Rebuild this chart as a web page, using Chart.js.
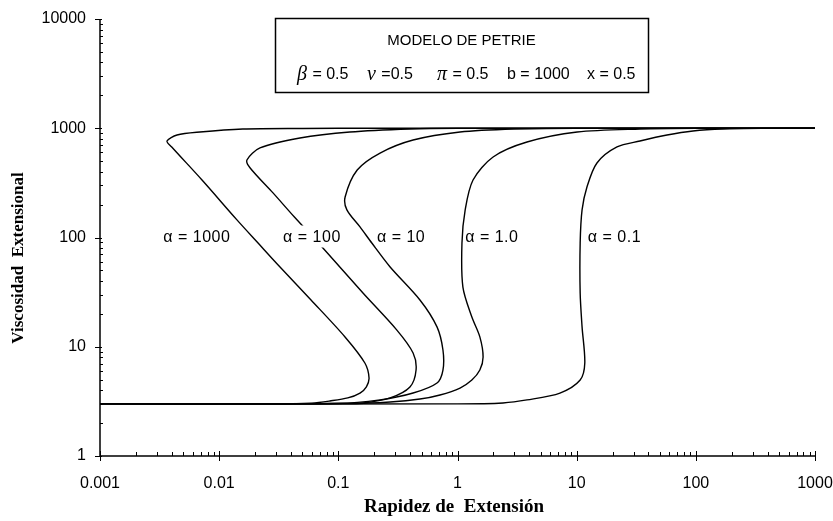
<!DOCTYPE html>
<html><head><meta charset="utf-8">
<script src="https://cdn.jsdelivr.net/npm/chart.js@4/dist/chart.umd.min.js"></script>
<style>html,body{margin:0;padding:0;background:#fff;} #wrap{width:833px;height:521px;}</style>
</head><body><div id="wrap"><canvas id="c" width="833" height="521"></canvas></div>
<script>
// ---- data ----
const xTicks = [0.001, 0.01, 0.1, 1, 10, 100, 1000];
const xTickLabels = ['0.001', '0.01', '0.1', '1', '10', '100', '1000'];
const yTicks = [1, 10, 100, 1000, 10000];
const yTickLabels = ['1', '10', '100', '1000', '10000'];

const alphaLabels = ['\u03b1 = 1000', '\u03b1 = 100', '\u03b1 = 10', '\u03b1 = 1.0', '\u03b1 = 0.1'];
const alphaLabelX = [0.0034, 0.0344, 0.211, 1.16, 12.4];
const alphaLabelY = [100, 100, 100, 100, 100];

const a1000X = [0.001, 0.03, 0.06, 0.085, 0.12, 0.152, 0.172, 0.181, 0.167, 0.1138, 0.059, 0.0324, 0.0212, 0.0141, 0.00718, 0.0040, 0.00365, 0.00443, 0.0069, 0.0158, 0.05, 0.2, 1, 10, 100, 1000];
const a1000Y = [3, 3, 3.05, 3.19, 3.4, 3.77, 4.3, 5.18, 7.1, 12.3, 26.8, 53.7, 89, 145, 336, 674, 764, 867, 924, 984, 996, 1000, 1000, 1000, 1000, 1000];

const a100X = [0.001, 0.05, 0.1, 0.161, 0.272, 0.399, 0.449, 0.424, 0.310, 0.161, 0.073, 0.0428, 0.0283, 0.0182, 0.0171, 0.0220, 0.0476, 0.125, 0.4, 1, 10, 100, 1000];
const a100Y = [3, 3, 3.02, 3.06, 3.40, 4.28, 6.12, 8.77, 14.2, 31.0, 81.9, 154, 256, 433, 512, 660, 814, 924, 985, 1000, 1000, 1000, 1000];

const a10X = [0.001, 0.1, 0.224, 0.424, 0.673, 0.755, 0.755, 0.673, 0.484, 0.272, 0.191, 0.152, 0.118, 0.114, 0.144, 0.224, 0.424, 1.05, 3, 10, 100, 1000];
const a10Y = [3, 3.02, 3.26, 3.77, 4.66, 6.12, 9.34, 15.2, 26.8, 53.7, 89, 125, 179, 235, 415, 593, 780, 924, 984, 1000, 1000, 1000];

const a1X = [0.001, 0.125, 0.272, 0.484, 0.713, 1.05, 1.32, 1.54, 1.64, 1.54, 1.32, 1.11, 1.09, 1.16, 1.35, 1.99, 3.83, 10.1, 34, 100, 1000];
const a1Y = [3, 3.02, 3.12, 3.32, 3.62, 4.19, 4.96, 6.12, 8.06, 12.3, 18.7, 35.2, 89, 179, 336, 546, 748, 924, 984, 1000, 1000];

const a01X = [0.001, 1, 2.41, 3.83, 7.24, 10.7, 11.7, 11.1, 10.7, 10.7, 11.1, 12.2, 14.8, 21.8, 34, 57.3, 94.6, 169, 400, 1000];
const a01Y = [3, 3, 3.06, 3.26, 3.77, 4.96, 7.1, 15.2, 31.0, 89, 179, 290, 481, 674, 764, 867, 944, 984, 998, 1000];

const seriesX = [a1000X, a100X, a10X, a1X, a01X];
const seriesY = [a1000Y, a100Y, a10Y, a1Y, a01Y];

const boxTitle = 'MODELO DE PETRIE';
const boxGreek = ['\u03b2', '\u03bd', '\u03c0', '', ''];
const boxRest = [' = 0.5', ' =0.5', ' = 0.5', 'b = 1000', 'x = 0.5'];
const xTitle = 'Rapidez de  Extensi\u00f3n';
const yTitle = 'Viscosidad  Extensional';

// ---- chart ----
const SANS = "'Liberation Sans', Arial, sans-serif";
const SERIF = "'Liberation Serif', 'DejaVu Serif', serif";

const decor = {
  id: 'decor',
  afterDraw(chart) {
    const {ctx, chartArea: a, scales: {x, y}} = chart;
    ctx.save();
    ctx.strokeStyle = '#000';
    ctx.lineWidth = 1.5;
    ctx.beginPath();
    ctx.moveTo(a.left, a.top); ctx.lineTo(a.left, a.bottom); ctx.lineTo(a.right, a.bottom);
    ctx.stroke();
    ctx.lineWidth = 1;
    const seg = (x1, y1, x2, y2) => { ctx.beginPath(); ctx.moveTo(x1, y1); ctx.lineTo(x2, y2); ctx.stroke(); };
    xTicks.forEach((v, i) => {
      const p = Math.round(x.getPixelForValue(v)) + 0.5;
      seg(p, a.bottom - 5, p, a.bottom + 5);
      if (i < xTicks.length - 1) for (let k = 2; k <= 9; k++) {
        const q = Math.round(x.getPixelForValue(v * k)) + 0.5;
        seg(q, a.bottom - 4, q, a.bottom);
      }
    });
    yTicks.forEach((v, i) => {
      const p = Math.round(y.getPixelForValue(v)) + 0.5;
      seg(a.left - 5, p, a.left + 2, p);
      if (i < yTicks.length - 1) for (let k = 2; k <= 9; k++) {
        const q = Math.round(y.getPixelForValue(v * k)) + 0.5;
        seg(a.left, q, a.left + 3, q);
      }
    });
    // curve labels
    ctx.font = '16px ' + SANS;
    ctx.letterSpacing = '0.5px';
    ctx.textBaseline = 'middle';
    ctx.textAlign = 'left';
    alphaLabels.forEach((t, i) => {
      const px = x.getPixelForValue(alphaLabelX[i]);
      const py = y.getPixelForValue(alphaLabelY[i]);
      const w = ctx.measureText(t).width;
      ctx.fillStyle = '#fff';
      ctx.fillRect(px - 1, py - 12, w + 4, 22);
      ctx.fillStyle = '#000';
      ctx.fillText(t, px, py);
    });
    ctx.letterSpacing = '0px';
    // box
    const bx = 275, by = 18, bw = 373, bh = 74;
    ctx.fillStyle = '#fff';
    ctx.fillRect(bx, by, bw, bh);
    ctx.lineWidth = 1.5;
    ctx.strokeRect(bx + 0.5, by + 0.5, bw, bh);
    ctx.fillStyle = '#000';
    ctx.textAlign = 'center';
    ctx.font = '15px ' + SANS;
    ctx.fillText(boxTitle, bx + bw / 2, 41);
    ctx.textAlign = 'left';
    const starts = [297, 367, 437, 507, 587];
    boxRest.forEach((t, i) => {
      let cx = starts[i];
      if (boxGreek[i]) {
        ctx.font = 'italic 20px ' + SERIF;
        ctx.fillText(boxGreek[i], cx, 75);
        cx += ctx.measureText(boxGreek[i]).width + 1;
      }
      ctx.font = '16px ' + SANS;
      ctx.fillText(t, cx, 75);
    });
    // axis titles
    ctx.font = 'bold 19px ' + SERIF;
    ctx.textAlign = 'center';
    ctx.fillText(xTitle, 454, 507);
    ctx.save();
    ctx.translate(19, 258);
    ctx.rotate(-Math.PI / 2);
    ctx.font = 'bold 17px ' + SERIF;
    ctx.fillText(yTitle, 0, 0);
    ctx.restore();
    ctx.restore();
  }
};

new Chart(document.getElementById('c'), {
  type: 'scatter',
  data: {
    datasets: seriesX.map((xs, s) => ({
      data: xs.map((xv, i) => ({x: xv, y: seriesY[s][i]})),
      showLine: true,
      borderColor: '#000',
      borderWidth: 1.4,
      pointRadius: 0,
      tension: 0.3,
      fill: false
    }))
  },
  options: {
    responsive: false,
    animation: false,
    devicePixelRatio: 1,
    layout: {padding: {left: 0, top: 19, right: 18, bottom: 0}},
    plugins: {legend: {display: false}, tooltip: {enabled: false}},
    scales: {
      x: {
        type: 'logarithmic', min: 0.001, max: 1000,
        afterBuildTicks: s => { s.ticks = xTicks.map(v => ({value: v})); },
        afterFit: s => { s.height = 65; s.paddingLeft = 0; s.paddingRight = 0; },
        grid: {display: false, drawTicks: false},
        border: {display: false},
        ticks: {autoSkip: false, maxRotation: 0, minRotation: 0, padding: 18, color: '#000',
          font: {family: SANS, size: 16}, callback: (v, i) => xTickLabels[i]}
      },
      y: {
        type: 'logarithmic', min: 1, max: 10000,
        afterBuildTicks: s => { s.ticks = yTicks.map(v => ({value: v})); },
        afterFit: s => { s.width = 100; s.paddingTop = 0; s.paddingBottom = 0; },
        grid: {display: false, drawTicks: false},
        border: {display: false},
        ticks: {autoSkip: false, padding: 14, color: '#000',
          font: {family: SANS, size: 16}, callback: (v, i) => yTickLabels[i]}
      }
    }
  },
  plugins: [decor]
});
</script></body></html>
